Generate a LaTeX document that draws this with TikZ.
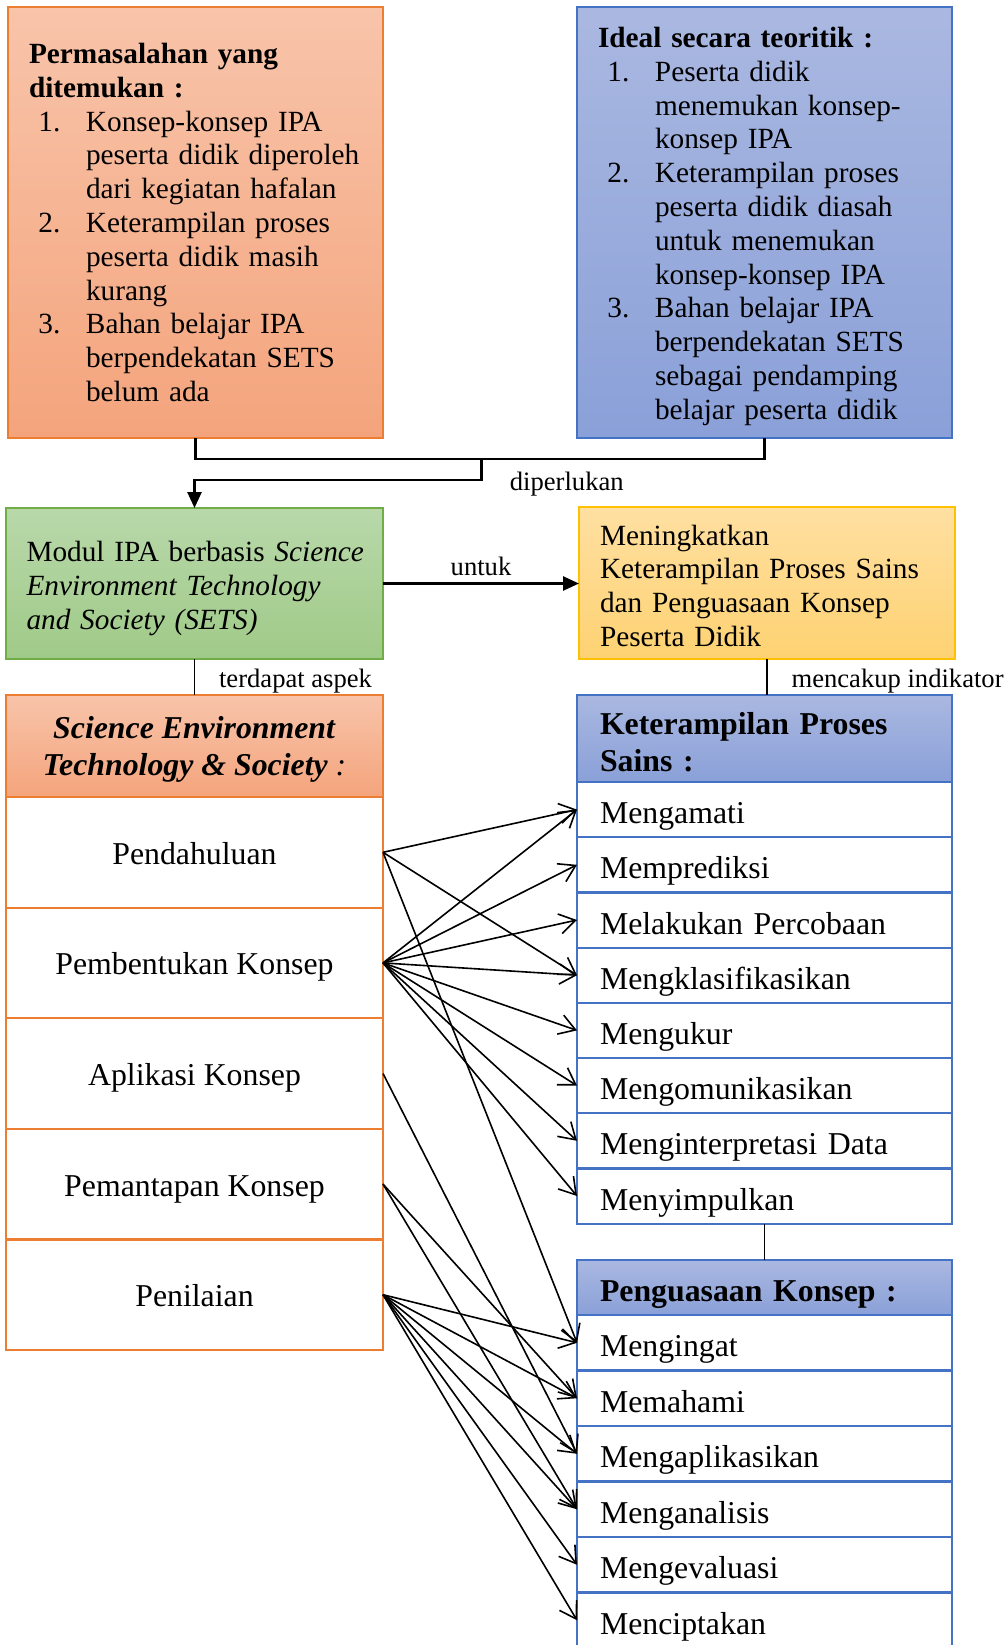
\documentclass[tikz,border=0pt]{standalone}
\usepackage{fontspec}
\setmainfont{Liberation Serif}
\usetikzlibrary{positioning,arrows.meta}

\definecolor{oranye}{HTML}{ED7D31}
\definecolor{oranyeatas}{HTML}{F8C4AA}
\definecolor{oranyebawah}{HTML}{F4A47C}
\definecolor{biru}{HTML}{4472C4}
\definecolor{biruatas}{HTML}{AAB8E1}
\definecolor{birubawah}{HTML}{8AA0D8}
\definecolor{hijau}{HTML}{70AD47}
\definecolor{hijauatas}{HTML}{B8D8AA}
\definecolor{hijaubawah}{HTML}{A0CA88}
\definecolor{kuning}{HTML}{FFC000}
\definecolor{kuningatas}{HTML}{FFE0A2}
\definecolor{kuningbawah}{HTML}{FED272}

\newcommand{\hurufatas}{\fontsize{14.65pt}{16.9pt}\selectfont}
\newcommand{\hurufbawah}{\fontsize{15.9pt}{18.5pt}\selectfont}
\newcommand{\hurufket}{\fontsize{13.3pt}{15pt}\selectfont}
% numbered item with hanging indent
\newcommand{\butir}[2]{\par\hangindent=28.5pt\hangafter=1\noindent\hbox to 28.5pt{\hspace{4.7pt}#1\hfil}{\let\\\newline #2}\par}
% invisible strut to push text down
\newcommand{\tiang}[1]{\rule{0pt}{#1}}

\begin{document}
\begin{tikzpicture}[x=0.5pt,y=-0.5pt,
kotak/.style={
% The shape:
rectangle,
line width=0.65pt,
minimum width=187.5pt,
minimum height=215.5pt,
text width=166.5pt,
inner xsep=10.5pt,
outer sep=0pt,
align=left,
font=\hurufatas
},
oranyegrad/.style={draw=oranye,top color=oranyeatas,bottom color=oranyebawah},
birugrad/.style={draw=biru,top color=biruatas,bottom color=birubawah},
hijaugrad/.style={draw=hijau,top color=hijauatas,bottom color=hijaubawah},
kuninggrad/.style={draw=kuning,top color=kuningatas,bottom color=kuningbawah},
judulsets/.style={
rectangle,oranyegrad,line width=1.1pt,
minimum width=188.5pt,minimum height=51pt,
align=center,outer sep=0pt,font=\hurufbawah
},
aspek/.style={
rectangle,draw=oranye,fill=white,line width=1.1pt,
minimum width=188.5pt,minimum height=55.3pt,
text height=15pt,text depth=3pt,
inner sep=0pt,outer sep=0pt,font=\hurufbawah
},
judulkanan/.style={
rectangle,birugrad,line width=1.1pt,
text width=164.5pt,inner xsep=11.5pt,
align=left,outer sep=0pt,font=\hurufbawah
},
indikator/.style={
rectangle,draw=biru,fill=white,line width=1.1pt,
text width=164.5pt,inner xsep=11.5pt,inner ysep=0pt,
minimum height=27.6pt,text height=17pt,text depth=3pt,
align=left,outer sep=0pt,font=\hurufbawah
},
ket/.style={inner sep=0pt,font=\hurufket},
tebal/.style={line width=1.3pt},
tipis/.style={line width=0.6pt},
panah/.style={line width=0.8pt,-{Straight Barb[length=8pt,width=10pt]}}
]
\useasboundingbox (0,0) rectangle (1007,1645);

% problem and ideal
\node (masalah) [kotak,oranyegrad] at (195.5,222.5) {\textbf{Permasalahan yang}\\\textbf{ditemukan :}
\butir{1.}{Konsep-konsep IPA\\peserta didik diperoleh\\dari kegiatan hafalan}
\butir{2.}{Keterampilan proses\\peserta didik masih\\kurang}
\butir{3.}{Bahan belajar IPA\\berpendekatan SETS\\belum ada}};
\node (ideal) [kotak,birugrad] at (764.5,222.5) {\tiang{14pt}\textbf{Ideal secara teoritik :}
\butir{1.}{Peserta didik\\menemukan konsep-\\konsep IPA}
\butir{2.}{Keterampilan proses\\peserta didik diasah\\untuk menemukan\\konsep-konsep IPA}
\butir{3.}{Bahan belajar IPA\\berpendekatan SETS\\sebagai pendamping\\belajar peserta didik}};

% module and goal
\node (modul) [kotak,hijaugrad,minimum width=188.5pt,minimum height=75.5pt,text width=168pt,inner xsep=10.25pt] at (194.5,583.5) {\tiang{15pt}\mbox{Modul IPA berbasis \textit{Science}}\\\textit{Environment Technology}\\\textit{and Society (SETS)}};
\node (tujuan) [kotak,kuninggrad,minimum width=188pt,minimum height=76pt,text width=167pt,inner xsep=10.5pt] at (767,583) {\tiang{13pt}Meningkatkan\\Keterampilan Proses Sains\\dan Penguasaan Konsep\\Peserta Didik};

% SETS aspects
\node (sets) [judulsets] at (194.5,746) {\tiang{14.5pt}\textbf{\textit{Science Environment}}\\\textbf{\textit{Technology \& Society}} \textit{:}};
\node (pendahuluan) [aspek,below=0pt of sets] {Pendahuluan};
\node (pembentukan) [aspek,below=0pt of pendahuluan] {Pembentukan Konsep};
\node (aplikasi) [aspek,below=0pt of pembentukan] {Aplikasi Konsep};
\node (pemantapan) [aspek,below=0pt of aplikasi] {Pemantapan Konsep};
\node (penilaian) [aspek,below=0pt of pemantapan] {Penilaian};

% science process skills
\node (kps) [judulkanan,minimum height=43.5pt] at (764.5,738.5) {\tiang{15pt}\textbf{Keterampilan Proses}\\\textbf{Sains :}};
\node (kps1) [indikator,below=0pt of kps] {Mengamati};
\node (kps2) [indikator,below=0pt of kps1] {Memprediksi};
\node (kps3) [indikator,below=0pt of kps2] {Melakukan Percobaan};
\node (kps4) [indikator,below=0pt of kps3] {Mengklasifikasikan};
\node (kps5) [indikator,below=0pt of kps4] {Mengukur};
\node (kps6) [indikator,below=0pt of kps5] {Mengomunikasikan};
\node (kps7) [indikator,below=0pt of kps6] {Menginterpretasi Data};
\node (kps8) [indikator,below=0pt of kps7] {Menyimpulkan};

% concept mastery
\node (pk) [judulkanan,minimum height=27.5pt,text height=17pt,text depth=3pt,inner ysep=0pt] at (764.5,1287.5) {\textbf{Penguasaan Konsep :}};
\node (pk1) [indikator,minimum height=27.75pt,below=0pt of pk] {Mengingat};
\node (pk2) [indikator,minimum height=27.75pt,below=0pt of pk1] {Memahami};
\node (pk3) [indikator,minimum height=27.75pt,below=0pt of pk2] {Mengaplikasikan};
\node (pk4) [indikator,minimum height=27.75pt,below=0pt of pk3] {Menganalisis};
\node (pk5) [indikator,minimum height=27.75pt,below=0pt of pk4] {Mengevaluasi};
\node (pk6) [indikator,minimum height=27.75pt,below=0pt of pk5] {Menciptakan};

% connectors
\coordinate (gabung) at (481.5,459);
\coordinate (belok) at (481.5,480);
\draw [tebal] (masalah.south) |- (gabung) -| (ideal.south);
\draw [tebal,-{Triangle[length=8pt,width=7pt]}] (gabung) -- (belok) -| (modul.north);
\node (ketperlu) [ket,right=14pt of belok,yshift=-2pt] {diperlukan};
\draw [tebal,-{Triangle[length=8pt,width=7pt]}] (modul.east) -- node (ketuntuk) [ket,above=3pt] {untuk} (modul.east -| tujuan.west);
\draw [tipis] (modul.south) -- node (ketaspek) [ket,right=12pt,yshift=-2pt] {terdapat aspek} (sets.north);
\draw [tipis] (tujuan.south) -- node (ketindikator) [ket,right=12pt,yshift=-2pt] {mencakup indikator} (tujuan.south |- kps.north);
\draw [tipis] (kps8.south) -- (pk.north);

\path (pendahuluan.east) edge[panah] (kps1.west) (pendahuluan.east) edge[panah] (kps4.west) (pendahuluan.east) edge[panah] (pk1.west);
\path (pembentukan.east) edge[panah] (kps1.west) (pembentukan.east) edge[panah] (kps2.west) (pembentukan.east) edge[panah] (kps3.west) (pembentukan.east) edge[panah] (kps4.west);
\path (pembentukan.east) edge[panah] (kps5.west) (pembentukan.east) edge[panah] (kps6.west) (pembentukan.east) edge[panah] (kps7.west) (pembentukan.east) edge[panah] (kps8.west);
\path (aplikasi.east) edge[panah] (pk3.west);
\path (pemantapan.east) edge[panah] (pk2.west) (pemantapan.east) edge[panah] (pk4.west);
\path (penilaian.east) edge[panah] (pk1.west) (penilaian.east) edge[panah] (pk2.west) (penilaian.east) edge[panah] (pk3.west);
\path (penilaian.east) edge[panah] (pk4.west) (penilaian.east) edge[panah] (pk5.west) (penilaian.east) edge[panah] (pk6.west);
\end{tikzpicture}
\end{document}
